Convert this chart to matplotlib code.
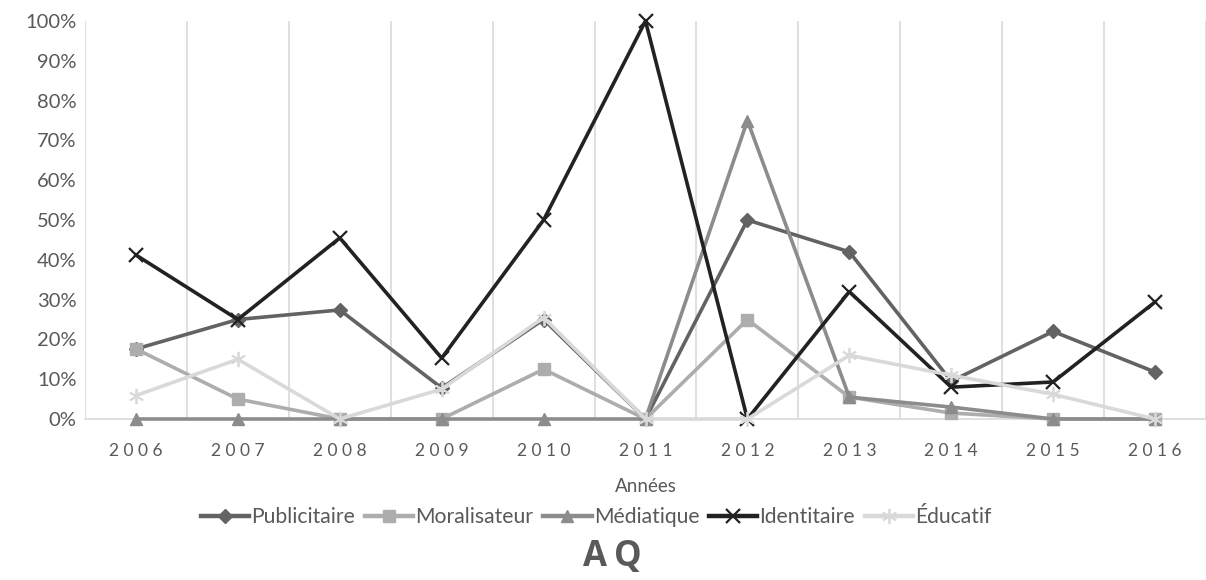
import matplotlib
matplotlib.use("Agg")
import matplotlib.pyplot as plt
import numpy as np

annees = ['2006', '2007', '2008', '2009', '2010', '2011', '2012', '2013', '2014', '2015', '2016']

publicitaire = [17.6, 25, 27.4, 7.8, 25, 0, 50, 42, 9.5, 22, 11.8]
moralisateur = [17.6, 5, 0, 0, 12.5, 0, 25, 5.5, 1.5, 0, 0]
mediatique = [0, 0, 0, 0, 0, 0, 75, 5.5, 3, 0, 0]
identitaire = [41.2, 25, 45.5, 15.3, 50, 100, 0, 32, 8, 9.3, 29.4]
educatif = [5.9, 15, 0, 7.5, 25.5, 0, 0, 16, 11, 6.2, 0]

plt.rcParams['font.family'] = ['Lato', 'DejaVu Sans']

fig = plt.figure(figsize=(12.06, 5.8), dpi=100)
ax = fig.add_axes([85 / 1206, 1 - 419 / 580, 1 - 85 / 1206, (419 - 21) / 580])

x = np.arange(len(annees))
series = [
    ('Publicitaire', publicitaire, '#636363', 'D', 7, 1),
    ('Moralisateur', moralisateur, '#adadad', 's', 9, 1),
    ('Médiatique', mediatique, '#8c8c8c', '^', 9, 1),
    ('Identitaire', identitaire, '#222222', 'x', 10, 1.6),
    ('Éducatif', educatif, '#d9d9d9', (6, 2, 0), 11, 1.3),
]
for nom, vals, col, mk, ms, mew in series:
    ax.plot(x, vals, color=col, lw=2.6, marker=mk, markersize=ms,
            markeredgewidth=mew, markeredgecolor=col, markerfacecolor=col,
            label=nom, zorder=3, clip_on=False)

ax.set_xlim(-0.5, len(annees) - 0.5)
ax.set_ylim(0, 100)
ax.set_yticks(np.arange(0, 101, 10))
ax.set_yticklabels(['%d%%' % v for v in range(0, 101, 10)])
ax.set_xticks(x)
ax.set_xticklabels([' '.join(a) for a in annees])
ax.set_xticks(np.arange(-0.5, len(annees), 1), minor=True)
ax.grid(axis='x', which='minor', color='#d9d9d9', lw=1.2)
ax.grid(axis='x', which='major', visible=False)

for s in ['top', 'right', 'left']:
    ax.spines[s].set_visible(False)
ax.spines['bottom'].set_color('#d9d9d9')
ax.spines['bottom'].set_linewidth(1.2)
ax.tick_params(axis='both', which='both', length=0, colors='#595959', labelsize=14.5)
ax.tick_params(axis='x', pad=17, labelsize=12.5)
ax.tick_params(axis='y', pad=6)
ax.set_xlabel('Années', fontsize=13.5, color='#595959', labelpad=14)

leg = ax.legend(loc='center', bbox_to_anchor=(0.456, -0.246), ncol=5, frameon=False,
                fontsize=15.2, labelcolor='#595959', handlelength=2.3, handletextpad=0.1,
                columnspacing=0.45, borderaxespad=0)
for h in leg.get_lines():
    h.set_linewidth(3.2)

fig.text(0.508, 1 - 557 / 580, 'A\u2009Q', ha='center', va='center', fontsize=25,
         fontweight='bold', color='#595959', family=['Open Sans', 'DejaVu Sans'])

fig.savefig('out.png', dpi=100)
